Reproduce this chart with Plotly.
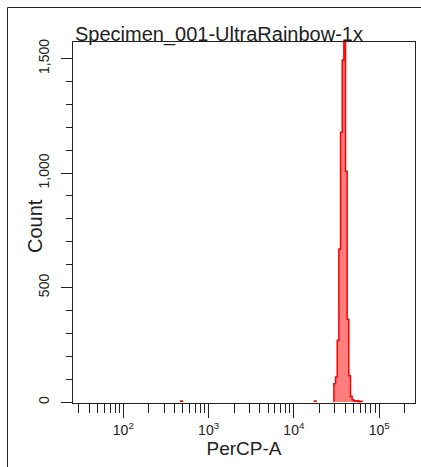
import plotly.graph_objects as go

# ---- data ----
title_text = "Specimen_001-UltraRainbow-1x"
x_label = "PerCP-A"
y_label = "Count"

# histogram bin edges (PerCP-A, linear units) and counts per bin
bin_edges = [471, 492, 17400, 18170, 29470, 30820, 32230, 33700, 35250, 36860,
             38540, 40300, 42140, 44070, 46080, 48190, 50400, 52700, 55110,
             57630, 60260, 63010]
bin_counts = [5, 0, 5, 0, 80, 110, 270, 668, 1178, 1493, 1900, 1008, 362, 115,
              25, 10, 6, 4, 6, 2, 4]

x_major = [100, 1000, 10000, 100000]
x_major_text = ["10<sup>2</sup>", "10<sup>3</sup>", "10<sup>4</sup>", "10<sup>5</sup>"]
x_minor = [30, 40, 50, 60, 70, 80, 90,
           200, 300, 400, 500, 600, 700, 800, 900,
           2000, 3000, 4000, 5000, 6000, 7000, 8000, 9000,
           20000, 30000, 40000, 50000, 60000, 70000, 80000, 90000,
           200000]
y_major = [0, 500, 1000, 1500]
y_major_text = ["0", "500", "1,000", "1,500"]

# ---- build step outlines, one per contiguous run of non-empty bins ----
segments = []
cur = None
for i, c in enumerate(bin_counts):
    if c > 0:
        if cur is None:
            cur = ([bin_edges[i]], [0])
        cur[0].append(bin_edges[i])
        cur[1].append(c)
    else:
        if cur is not None:
            cur[0].append(bin_edges[i])
            cur[1].append(0)
            segments.append(cur)
            cur = None
if cur is not None:
    cur[0].append(bin_edges[len(bin_counts)])
    cur[1].append(0)
    segments.append(cur)

FONT = "Liberation Sans, Arial, sans-serif"

fig = go.Figure()
for sx, sy in segments:
    fig.add_trace(go.Scatter(
        x=sx, y=sy, mode="lines", line=dict(shape="hv", color="#FF0000", width=1.5),
        fill="tozeroy", fillcolor="rgba(255,0,0,0.5)", hoverinfo="skip", showlegend=False,
    ))

W, H = 421, 467
L, R, T, B = 73, 6, 42, 64
pw, ph = W - L - R, H - T - B

def px_x(p):
    return (p - L) / pw

def px_y(p):
    return (H - B - p) / ph

fig.update_layout(
    width=W, height=H,
    margin=dict(l=L, r=R, t=T, b=B, pad=0),
    paper_bgcolor="white", plot_bgcolor="white",
    font=dict(family=FONT, color="#222222"),
    showlegend=False,
    annotations=[
        dict(text=title_text, font=dict(size=20, family=FONT, color="#222222"),
             x=px_x(74), xref="paper", xanchor="left",
             y=px_y(47), yref="paper", yanchor="bottom",
             showarrow=False, borderpad=0),
        dict(text=y_label, font=dict(size=20, family=FONT, color="#222222"),
             x=px_x(35), xref="paper", xanchor="center",
             y=px_y(226), yref="paper", yanchor="middle", textangle=-90,
             showarrow=False, borderpad=0),
    ],
    xaxis=dict(
        type="log", range=[1.41, 5.42],
        tickmode="array", tickvals=x_major, ticktext=x_major_text,
        ticks="outside", ticklen=14, tickwidth=1, tickcolor="#222222",
        tickfont=dict(size=14, family=FONT, color="#222222"),
        minor=dict(tickmode="array", tickvals=x_minor, ticks="outside", ticklen=9,
                   tickwidth=1, tickcolor="#222222", showgrid=False),
        showline=True, linecolor="#222222", linewidth=1, mirror=True,
        showgrid=False, zeroline=False,
        title=dict(text=x_label, font=dict(size=19, family=FONT, color="#222222"), standoff=4),
    ),
    yaxis=dict(
        range=[-4, 1572],
        tickmode="array", tickvals=y_major, ticktext=y_major_text, tickangle=-90,
        ticks="outside", ticklen=11, tickwidth=1, tickcolor="#222222",
        ticklabelstandoff=6,
        tickfont=dict(size=14, family=FONT, color="#222222"),
        minor=dict(dtick=100, tick0=0, ticks="outside", ticklen=6, tickwidth=1,
                   tickcolor="#222222", showgrid=False),
        showline=True, linecolor="#222222", linewidth=1, mirror=True,
        showgrid=False, zeroline=False,
    ),
    shapes=[dict(type="rect", xref="paper", yref="paper",
                 x0=px_x(7.5), x1=px_x(440), y0=px_y(490), y1=px_y(7.5),
                 line=dict(color="#222222", width=1), fillcolor="rgba(0,0,0,0)",
                 layer="above")],
)

fig.write_html("out.html")
